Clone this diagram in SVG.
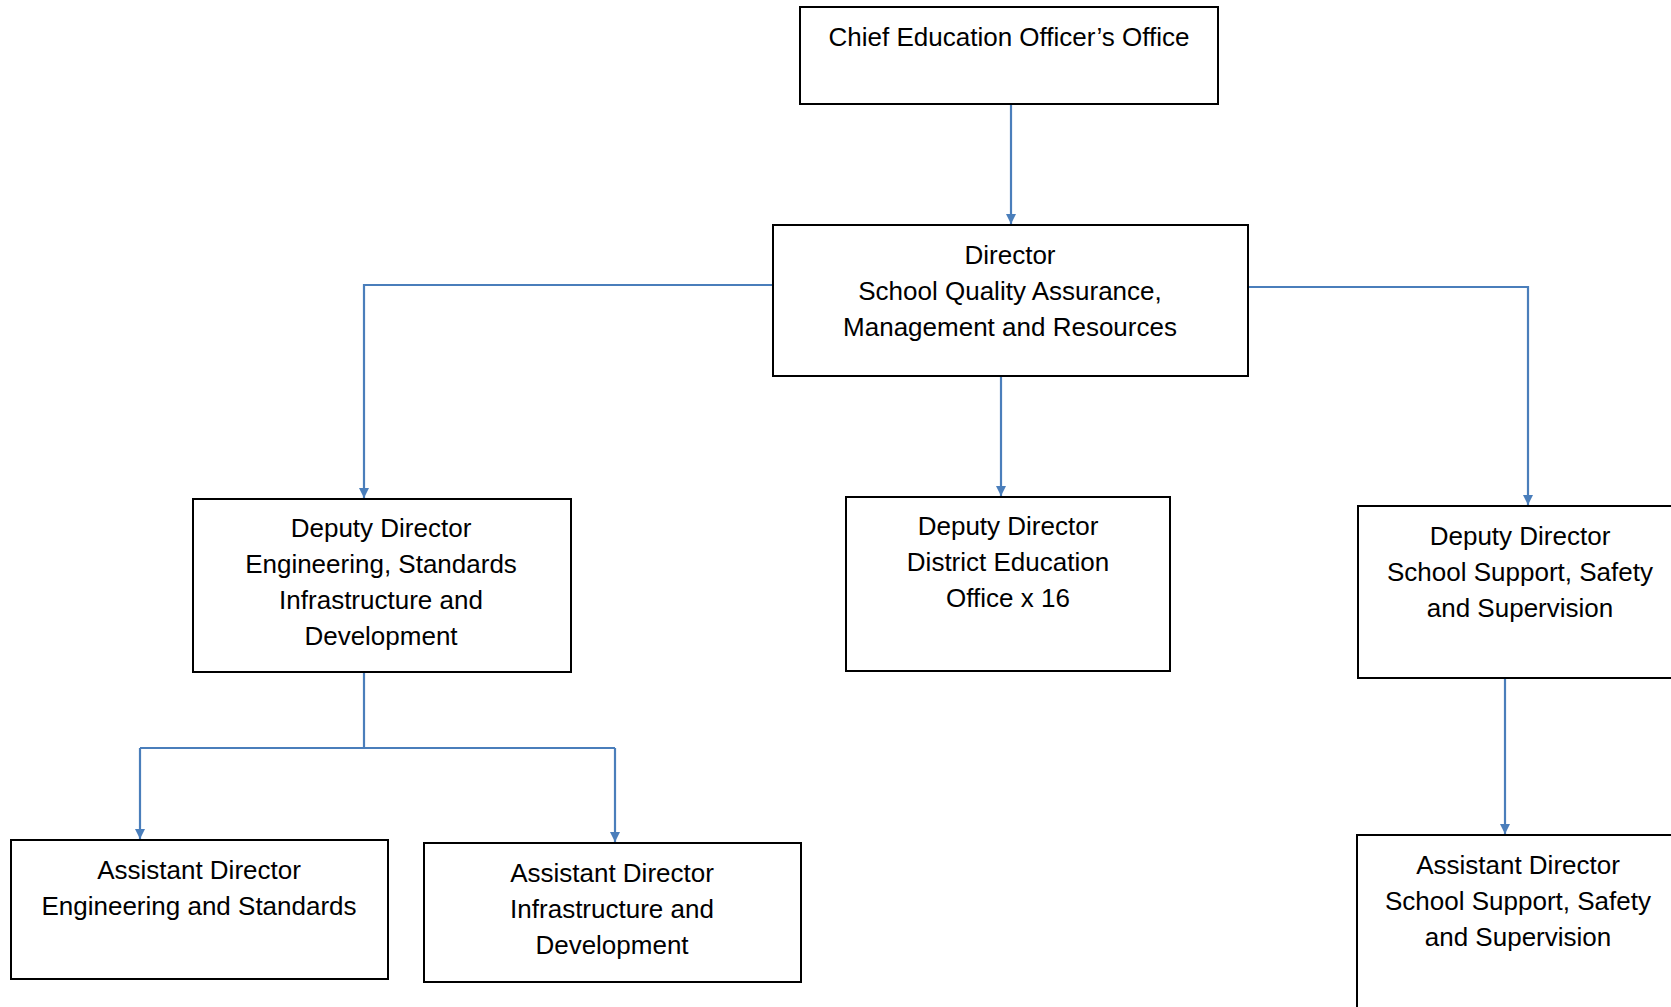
<svg xmlns="http://www.w3.org/2000/svg" width="1671" height="1007" viewBox="0 0 1671 1007">
  <style>
    .box { fill: #ffffff; stroke: #000000; stroke-width: 2; }
    .lbl { font-family: "Liberation Sans", Arial, sans-serif; font-size: 26px; fill: #000000; text-anchor: middle; }
    .link { fill: none; stroke: #4a7ebb; stroke-width: 2.2; }
  </style>
  <defs>
    <marker id="arrow" markerUnits="userSpaceOnUse" markerWidth="10" markerHeight="10" refX="10" refY="5" orient="auto">
      <path d="M0,0 L10,5 L0,10 Z" fill="#4a7ebb"/>
    </marker>
  </defs>

  <rect width="1671" height="1007" fill="#ffffff"/>

  <!-- connectors -->
  <g id="connectors">
    <path class="link" d="M1011,104 L1011,224" marker-end="url(#arrow)"/>
    <path class="link" d="M773,285 L364,285 L364,498" marker-end="url(#arrow)"/>
    <path class="link" d="M1001,376 L1001,496" marker-end="url(#arrow)"/>
    <path class="link" d="M1248,287 L1528,287 L1528,505" marker-end="url(#arrow)"/>
    <path class="link" d="M364,672 L364,748"/>
    <path class="link" d="M140,748 L615,748"/>
    <path class="link" d="M140,748 L140,839" marker-end="url(#arrow)"/>
    <path class="link" d="M615,748 L615,842" marker-end="url(#arrow)"/>
    <path class="link" d="M1505,678 L1505,834" marker-end="url(#arrow)"/>
  </g>

  <g id="chief">
    <rect class="box" x="800" y="7" width="418" height="97"/>
    <text class="lbl" x="1009" y="46">Chief Education Officer’s Office</text>
  </g>

  <g id="director">
    <rect class="box" x="773" y="225" width="475" height="151"/>
    <text class="lbl" x="1010" y="264">Director</text>
    <text class="lbl" x="1010" y="300">School Quality Assurance,</text>
    <text class="lbl" x="1010" y="336">Management and Resources</text>
  </g>

  <g id="dd-engineering">
    <rect class="box" x="193" y="499" width="378" height="173"/>
    <text class="lbl" x="381" y="537">Deputy Director</text>
    <text class="lbl" x="381" y="573">Engineering, Standards</text>
    <text class="lbl" x="381" y="609">Infrastructure and</text>
    <text class="lbl" x="381" y="645">Development</text>
  </g>

  <g id="dd-district">
    <rect class="box" x="846" y="497" width="324" height="174"/>
    <text class="lbl" x="1008" y="535">Deputy Director</text>
    <text class="lbl" x="1008" y="571">District Education</text>
    <text class="lbl" x="1008" y="607">Office x 16</text>
  </g>

  <g id="dd-support">
    <rect class="box" x="1358" y="506" width="340" height="172"/>
    <text class="lbl" x="1520" y="545">Deputy Director</text>
    <text class="lbl" x="1520" y="581">School Support, Safety</text>
    <text class="lbl" x="1520" y="617">and Supervision</text>
  </g>

  <g id="ad-engineering">
    <rect class="box" x="11" y="840" width="377" height="139"/>
    <text class="lbl" x="199" y="879">Assistant Director</text>
    <text class="lbl" x="199" y="915">Engineering and Standards</text>
  </g>

  <g id="ad-infrastructure">
    <rect class="box" x="424" y="843" width="377" height="139"/>
    <text class="lbl" x="612" y="882">Assistant Director</text>
    <text class="lbl" x="612" y="918">Infrastructure and</text>
    <text class="lbl" x="612" y="954">Development</text>
  </g>

  <g id="ad-support">
    <rect class="box" x="1357" y="835" width="340" height="200"/>
    <text class="lbl" x="1518" y="874">Assistant Director</text>
    <text class="lbl" x="1518" y="910">School Support, Safety</text>
    <text class="lbl" x="1518" y="946">and Supervision</text>
  </g>
</svg>
